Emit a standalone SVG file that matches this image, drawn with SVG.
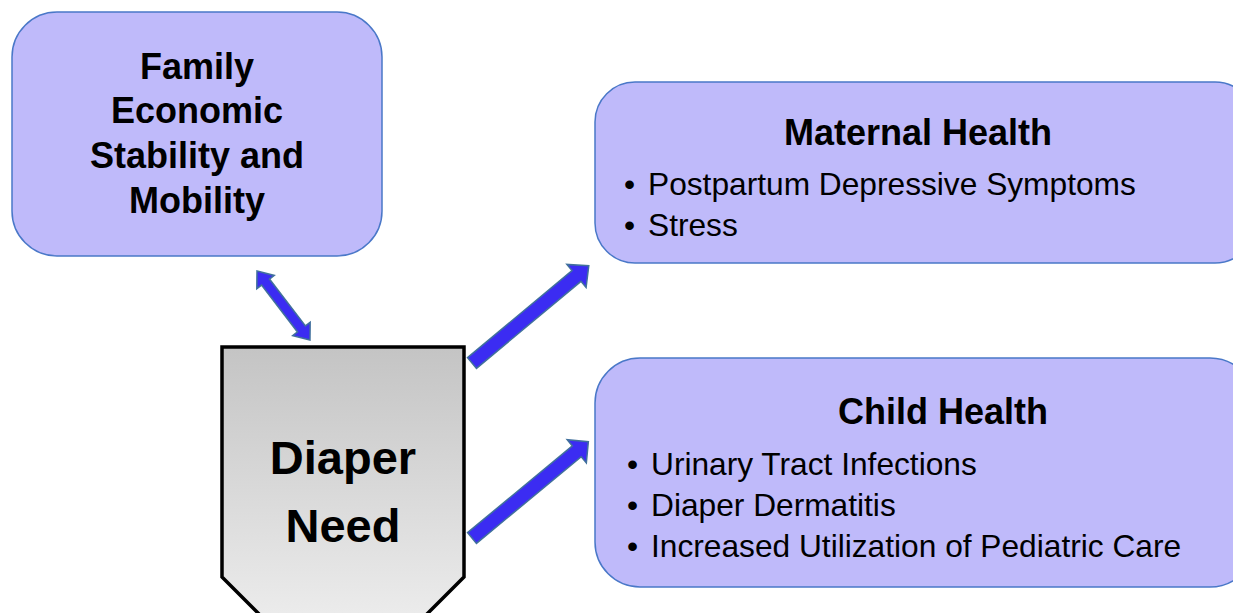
<svg xmlns="http://www.w3.org/2000/svg" width="1233" height="613" viewBox="0 0 1233 613">
<style>
.box{fill:#bfbafa;stroke:#4a78c8;stroke-width:1.5}
.t{font-family:"Liberation Sans",Arial,sans-serif;fill:#000}
.b{font-weight:bold}
.title{font-size:36px;font-weight:bold;text-anchor:middle}
.item{font-size:31.7px}
.arrow{fill:#3b2cf2;stroke:#41719c;stroke-width:1.5;stroke-linejoin:miter}
</style>
<defs>
<linearGradient id="g" x1="0" y1="347" x2="0" y2="640" gradientUnits="userSpaceOnUse">
<stop offset="0" stop-color="#c4c4c4"/>
<stop offset="1" stop-color="#efefef"/>
</linearGradient>
</defs>
<rect width="1233" height="613" fill="#ffffff"/>
<g id="family">
<rect class="box" x="12" y="12" width="370" height="244" rx="45" ry="45"/>
<text class="t title" x="197" y="79">Family</text>
<text class="t title" x="197" y="123">Economic</text>
<text class="t title" x="197" y="168">Stability and</text>
<text class="t title" x="197" y="213">Mobility</text>
</g>
<g id="maternal">
<rect class="box" x="595" y="82" width="660" height="181" rx="40" ry="40"/>
<text class="t title" x="918" y="145">Maternal Health</text>
<text class="t item" x="624" y="195">•</text>
<text class="t item" x="648" y="195">Postpartum Depressive Symptoms</text>
<text class="t item" x="624" y="236">•</text>
<text class="t item" x="648" y="236">Stress</text>
</g>
<g id="child">
<rect class="box" x="595" y="358" width="660" height="229" rx="45" ry="45"/>
<text class="t title" x="943" y="424">Child Health</text>
<text class="t item" x="627" y="475">•</text>
<text class="t item" x="651" y="475">Urinary Tract Infections</text>
<text class="t item" x="627" y="516">•</text>
<text class="t item" x="651" y="516">Diaper Dermatitis</text>
<text class="t item" x="627" y="557">•</text>
<text class="t item" x="651" y="557">Increased Utilization of Pediatric Care</text>
</g>
<g id="diaper">
<polygon points="222,347 464,347 464,577 421,620 265,620 222,577" fill="url(#g)" stroke="#000" stroke-width="3.5" stroke-linejoin="miter"/>
<text class="t b" x="343" y="474" font-size="47" text-anchor="middle">Diaper</text>
<text class="t b" x="343" y="542" font-size="47" text-anchor="middle">Need</text>
</g>
<g id="connectors">
<polygon class="arrow" transform="translate(257,271) rotate(52.5)" points="0,0 14,-11 14,-5 73,-5 73,-11 87,0 73,11 73,5 14,5 14,11"/>
<polygon class="arrow" transform="translate(472,363) rotate(-39.8)" points="0,-7 136,-7 136,-15 152,0 136,15 136,7 0,7"/>
<polygon class="arrow" transform="translate(472,538) rotate(-39.6)" points="0,-7 136,-7 136,-15 151,0 136,15 136,7 0,7"/>
</g>
</svg>
